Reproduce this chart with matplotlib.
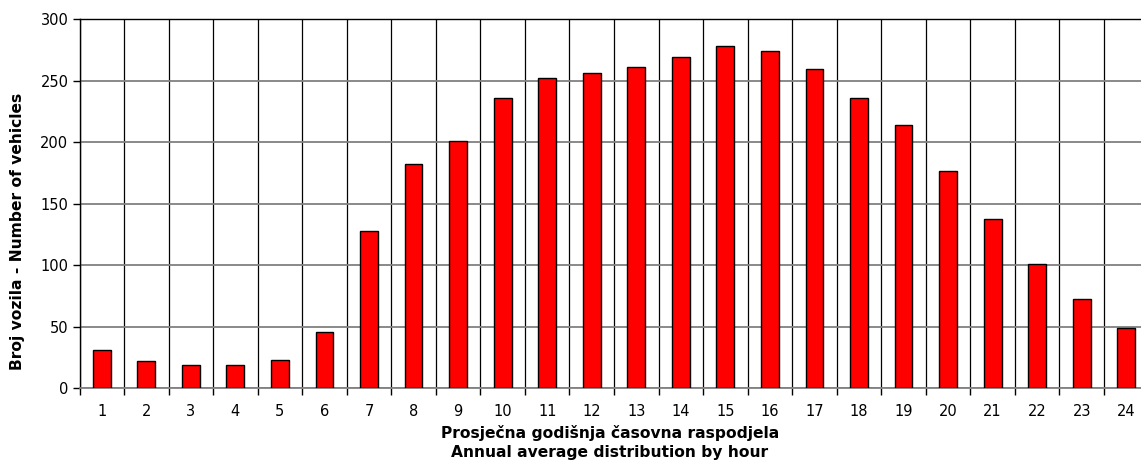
import numpy as np
import matplotlib
matplotlib.use("Agg")
import matplotlib.pyplot as plt
from matplotlib.ticker import MultipleLocator, FixedLocator

# hourly averages
hours = [str(h) for h in range(1, 25)]
vehicles = [31, 22, 19, 19, 23, 46, 128, 182, 201, 236, 252, 256,
            261, 269, 278, 274, 260, 236, 214, 177, 138, 101, 73, 49]

W, H = 1141, 463
fig = plt.figure(figsize=(W / 100, H / 100), dpi=100)
# axes run past the right edge of the picture, as in the source
left, right, top, bottom = 79.5, 1148.5, 19.3, 388.3
ax = fig.add_axes([left / W, 1 - bottom / H, (right - left) / W, (bottom - top) / H])

x = np.arange(len(hours))
ax.bar(x, vehicles, width=0.4, color="#ff0000", edgecolor="black", linewidth=1.0, zorder=3)

ax.set_xlim(-0.5, len(hours) - 0.5)
ax.set_ylim(0, 300)
ax.yaxis.set_major_locator(MultipleLocator(50))

ax.set_xticks(x)
ax.set_xticklabels(hours)
ax.xaxis.set_minor_locator(FixedLocator(np.arange(-0.5, len(hours), 1.0)))
ax.tick_params(axis="x", which="major", length=0, pad=11, labelsize=10.5)
ax.tick_params(axis="x", which="minor", length=5, width=1, color="black", direction="out")
ax.tick_params(axis="y", length=5, width=1, direction="out", labelsize=10.5, pad=3)

ax.grid(axis="x", which="minor", color="black", linewidth=0.9, zorder=1)
ax.grid(axis="y", which="major", color="#808080", linewidth=1.3, zorder=1)
ax.set_axisbelow(True)

for side in ["top", "left"]:
    ax.spines[side].set_color("black")
    ax.spines[side].set_linewidth(1.0)
ax.spines["bottom"].set_color("#808080")
ax.spines["bottom"].set_linewidth(1.3)
ax.spines["right"].set_visible(False)

fig.text(18 / W, 1 - 231 / H, "Broj vozila - Number of vehicles", rotation=90,
         ha="center", va="center", fontsize=11.2, fontweight="bold")
fig.text(610 / W, 1 - 433 / H, "Prosječna godišnja časovna raspodjela",
         ha="center", va="center", fontsize=11.2, fontweight="bold")
fig.text(610 / W, 1 - 452 / H, "Annual average distribution by hour",
         ha="center", va="center", fontsize=11.2, fontweight="bold")

fig.savefig("out.png", dpi=100, facecolor="white")
